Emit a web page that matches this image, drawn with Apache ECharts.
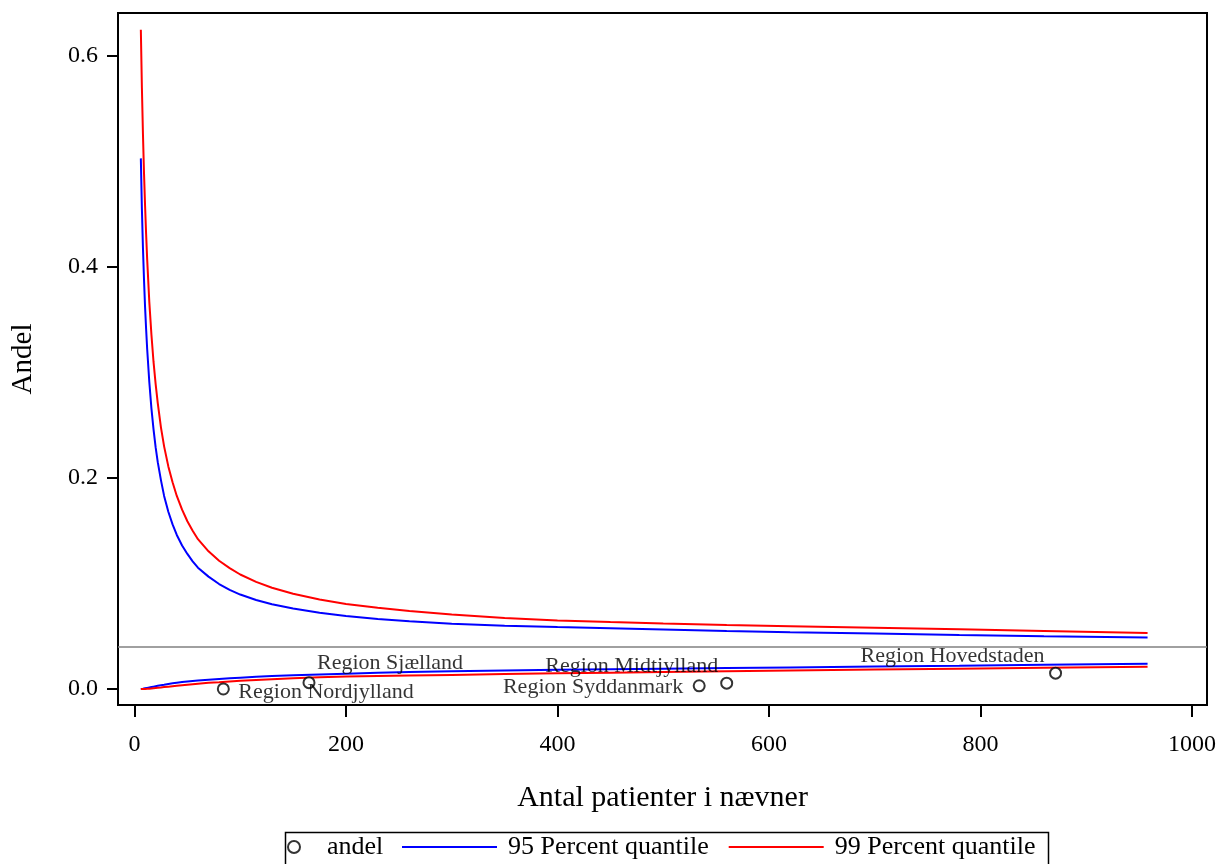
<!DOCTYPE html>
<html>
<head>
<meta charset="utf-8">
<script src="https://cdn.jsdelivr.net/npm/echarts@6/dist/echarts.min.js"></script>
<style>
html,body{margin:0;padding:0;background:#fff;}
#chart{width:1227px;height:864px;}
</style>
</head>
<body>
<div id="chart"></div>
<script>
// ---- data ----
var curveN  = [6, 7, 8, 9, 10, 11, 12, 14, 16, 18, 20, 22, 25, 28, 32, 36, 40, 45, 50, 55, 60, 70, 80, 90, 100, 115, 130, 150, 175, 200, 230, 260, 300, 350, 400, 450, 500, 560, 620, 700, 780, 860, 958];
var upper95 = [0.503, 0.455, 0.418, 0.388, 0.362, 0.341, 0.322, 0.291, 0.266, 0.246, 0.229, 0.215, 0.198, 0.183, 0.168, 0.156, 0.146, 0.136, 0.128, 0.121, 0.115, 0.1065, 0.0995, 0.0940, 0.0895, 0.0843, 0.0803, 0.0762, 0.0722, 0.0692, 0.0664, 0.0642, 0.0618, 0.0600, 0.0587, 0.0575, 0.0563, 0.0549, 0.0538, 0.0525, 0.0512, 0.0500, 0.0487];
var upper99 = [0.625, 0.570, 0.526, 0.489, 0.458, 0.431, 0.407, 0.367, 0.336, 0.310, 0.289, 0.271, 0.248, 0.230, 0.211, 0.196, 0.183, 0.170, 0.159, 0.150, 0.142, 0.1305, 0.1215, 0.1145, 0.1085, 0.1015, 0.0960, 0.0902, 0.0848, 0.0806, 0.0770, 0.0740, 0.0705, 0.0672, 0.0650, 0.0634, 0.0620, 0.0606, 0.0595, 0.0580, 0.0566, 0.0550, 0.0530];
var lower95 = [0, 0, 0.0002, 0.0004, 0.0006, 0.0008, 0.0010, 0.0014, 0.0018, 0.0022, 0.0026, 0.0030, 0.0036, 0.0041, 0.0048, 0.0054, 0.0060, 0.0066, 0.0071, 0.0076, 0.0080, 0.0088, 0.0095, 0.0101, 0.0107, 0.0115, 0.0122, 0.0130, 0.0138, 0.0145, 0.0153, 0.0160, 0.0168, 0.0176, 0.0182, 0.0187, 0.0192, 0.0198, 0.0204, 0.0212, 0.0220, 0.0230, 0.0240];
var lower99 = [0, 0, 0, 0, 0, 0, 0.0001, 0.0003, 0.0005, 0.0007, 0.0009, 0.0011, 0.0014, 0.0018, 0.0022, 0.0026, 0.0030, 0.0035, 0.0040, 0.0045, 0.0050, 0.0058, 0.0064, 0.0071, 0.0077, 0.0085, 0.0093, 0.0102, 0.0110, 0.0118, 0.0123, 0.0128, 0.0133, 0.0141, 0.0148, 0.0154, 0.0160, 0.0168, 0.0175, 0.0184, 0.0192, 0.0200, 0.0210];
var regionNames = ["Region Nordjylland", "Region Sjælland", "Region Syddanmark", "Region Midtjylland", "Region Hovedstaden"];
var regionN = [84, 165, 534, 560, 871];
var regionAndel = [0.0, 0.006, 0.003, 0.0055, 0.015];
var referenceAndel = 0.0354;
var xTicks = [0, 200, 400, 600, 800, 1000];
var yTicks = [0, 0.2, 0.4, 0.6];

// ---- build ----
function pairs(xs, ys) { return xs.map(function (x, i) { return [x, ys[i]]; }); }
var FONT = '"Liberation Serif", "DejaVu Serif", serif';
var labelPlacement = [
  { align: 'left', offset: [15, 3] },
  { align: 'left', offset: [8, -19] },
  { align: 'right', offset: [-16, 1] },
  { align: 'center', offset: [-95, -17] },
  { align: 'center', offset: [-103, -17] }
];
var scatterData = regionN.map(function (n, i) {
  return {
    value: [n, regionAndel[i]],
    name: regionNames[i],
    label: {
      show: true, position: 'inside', formatter: regionNames[i],
      align: labelPlacement[i].align, verticalAlign: 'middle', offset: labelPlacement[i].offset,
      color: '#000', fontFamily: FONT, fontSize: 22
    }
  };
});
function lineSeries(name, ys, color, extra) {
  var s = {
    name: name, type: 'line', data: pairs(curveN, ys),
    showSymbol: false, symbol: 'none', smooth: false,
    lineStyle: { color: color, width: 2 }, itemStyle: { color: color }
  };
  if (extra) { for (var k in extra) s[k] = extra[k]; }
  return s;
}

var chart = echarts.init(document.getElementById('chart'), null, { renderer: 'canvas' });
chart.setOption({
  animation: false,
  backgroundColor: '#fff',
  textStyle: { fontFamily: FONT, color: '#000' },
  grid: { left: 118, right: 20, top: 13, bottom: 159, show: true, borderColor: '#000', borderWidth: 2, backgroundColor: 'transparent' },
  xAxis: {
    type: 'value', min: -15.6, max: 1014.2,
    name: 'Antal patienter i nævner', nameLocation: 'middle', nameGap: 78,
    nameTextStyle: { fontFamily: FONT, fontSize: 30, color: '#000' },
    axisLine: { show: false, onZero: false },
    axisTick: { show: true, length: 12, lineStyle: { color: '#000', width: 2 }, customValues: xTicks },
    axisLabel: { fontFamily: FONT, fontSize: 24, color: '#000', margin: 28, customValues: xTicks, formatter: function (v) { return String(v); } },
    splitLine: { show: false }
  },
  yAxis: {
    type: 'value', min: -0.0152, max: 0.6408,
    name: 'Andel', nameLocation: 'middle', nameGap: 80, nameRotate: 90,
    nameTextStyle: { fontFamily: FONT, fontSize: 29, color: '#000' },
    axisLine: { show: false, onZero: false },
    axisTick: { show: true, length: 11, lineStyle: { color: '#000', width: 2 }, customValues: yTicks },
    axisLabel: { fontFamily: FONT, fontSize: 24, color: '#000', margin: 20, customValues: yTicks, formatter: function (v) { return v.toFixed(1); } },
    splitLine: { show: false }
  },
  legend: [
    {
      data: [{ name: 'andel', icon: 'emptyCircle' }],
      left: 287, top: 834, padding: 0, itemWidth: 12, itemHeight: 12,
      textStyle: { fontFamily: FONT, fontSize: 26, color: '#000', padding: [0, 0, 0, 22] }
    },
    {
      data: [{ name: '95 Percent quantile', icon: 'rect' }, { name: '99 Percent quantile', icon: 'rect' }],
      left: 402, top: 834, padding: 0, itemWidth: 95, itemHeight: 2, itemGap: 20,
      textStyle: { fontFamily: FONT, fontSize: 26, color: '#000', padding: [0, 0, 0, 6] }
    }
  ],
  graphic: [
    { type: 'rect', left: 283, top: 830, shape: { width: 763, height: 33 }, style: { fill: 'none', stroke: '#000', lineWidth: 1.5 }, z: 10 }
  ],
  series: [
    {
      name: 'andel', type: 'scatter', data: scatterData,
      symbol: 'emptyCircle', symbolSize: 11,
      itemStyle: { color: '#000', borderColor: '#000', borderWidth: 1.8 },
      z: 5
    },
    lineSeries('95 Percent quantile', upper95, '#0000ff', {
      markLine: {
        silent: true, symbol: 'none', label: { show: false },
        lineStyle: { color: '#808080', width: 1.5, type: 'solid' },
        data: [{ yAxis: referenceAndel }]
      }
    }),
    lineSeries('95 Percent quantile', lower95, '#0000ff'),
    lineSeries('99 Percent quantile', upper99, '#ff0000'),
    lineSeries('99 Percent quantile', lower99, '#ff0000')
  ]
});
</script>
</body>
</html>
